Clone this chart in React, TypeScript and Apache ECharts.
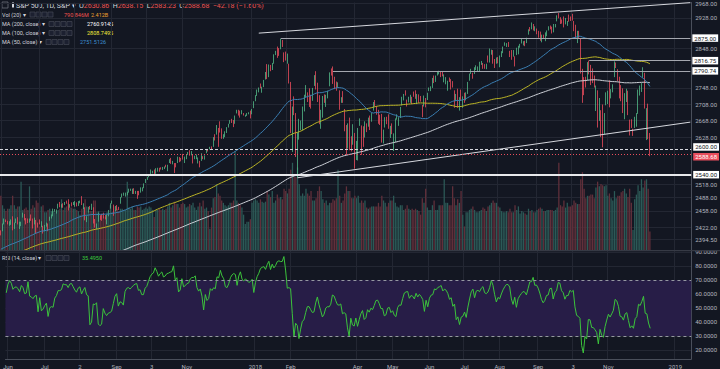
import React, { useEffect, useRef } from "react";
import * as echarts from "echarts";

// ---------- calendar ----------
const START_DATE = "2016-10-24";
const HOLIDAYS = [
  "2016-11-24", "2016-12-26", "2017-01-02", "2017-01-16", "2017-02-20", "2017-04-14", "2017-05-29",
  "2017-07-04", "2017-09-04", "2017-11-23", "2017-12-25", "2018-01-01", "2018-01-15", "2018-02-19",
  "2018-03-30", "2018-05-28", "2018-07-04", "2018-09-03", "2018-11-22", "2018-12-05", "2018-12-25", "2019-01-01",
];
const FUTURE_BARS = 24;

// ---------- hidden history (closes before the visible window, for MA / RSI) ----------
const priorCloses = [
  2151, 2143, 2139, 2133, 2126, 2126,
  2112, 2098, 2089, 2085, 2132, 2140, 2163, 2167, 2164, 2164, 2180, 2177, 2187, 2182, 2198, 2203, 2205, 2213, 2202, 2205, 2199,
  2191, 2192, 2205, 2212, 2241, 2246, 2260, 2257, 2272, 2253, 2262, 2258, 2263, 2271, 2265, 2261, 2264, 2269, 2250, 2249, 2239,
  2258, 2271, 2269, 2277, 2269, 2269, 2275, 2270, 2275, 2268, 2272, 2264, 2271, 2265, 2280, 2298, 2297, 2295, 2281, 2279,
  2280, 2281, 2297, 2293, 2293, 2295, 2308, 2316, 2328, 2338, 2349, 2347, 2351, 2365, 2363, 2364, 2367, 2370, 2364,
  2396, 2382, 2383, 2375, 2368, 2363, 2365, 2373, 2373, 2365, 2385, 2381, 2378, 2373, 2344, 2348, 2346, 2344, 2342, 2359, 2361, 2368, 2363,
  2359, 2360, 2353, 2357, 2356, 2357, 2354, 2345, 2329, 2349, 2342, 2338, 2356, 2349, 2374, 2389, 2387, 2389, 2384,
  2388, 2391, 2388, 2390, 2399, 2399, 2397, 2400, 2394, 2391, 2402, 2401, 2357, 2366, 2382, 2394, 2398, 2404, 2415, 2416, 2413,
];

// ---------- visible daily bars [open, high, low, close], 2017-05-31 .. 2018-12-10 ----------
const ohlc = [
  [2415, 2415, 2404, 2412],
  // Jun 2017
  [2415, 2430, 2413, 2430], [2432, 2441, 2428, 2439], [2437, 2439, 2433, 2436], [2434, 2436, 2428, 2429], [2432, 2435, 2425, 2433],
  [2434, 2439, 2427, 2434], [2437, 2446, 2415, 2432], [2428, 2432, 2418, 2429], [2434, 2441, 2431, 2440], [2443, 2444, 2428, 2438],
  [2424, 2434, 2418, 2432], [2428, 2434, 2424, 2433], [2443, 2454, 2443, 2453], [2450, 2451, 2437, 2437], [2440, 2442, 2428, 2436],
  [2437, 2441, 2431, 2434], [2434, 2441, 2432, 2438], [2445, 2450, 2436, 2439], [2437, 2441, 2419, 2419], [2428, 2443, 2428, 2441],
  [2436, 2438, 2408, 2420], [2429, 2432, 2421, 2423],
  // Jul 2017
  [2431, 2439, 2428, 2429], [2430, 2435, 2422, 2433], [2424, 2425, 2408, 2410], [2413, 2427, 2413, 2425], [2425, 2432, 2423, 2427],
  [2427, 2430, 2413, 2426], [2436, 2445, 2436, 2443], [2444, 2450, 2441, 2448], [2449, 2463, 2446, 2459], [2459, 2462, 2456, 2459],
  [2455, 2461, 2452, 2461], [2463, 2474, 2463, 2474], [2475, 2478, 2466, 2473], [2468, 2473, 2465, 2473], [2473, 2475, 2465, 2470],
  [2474, 2478, 2471, 2477], [2479, 2481, 2474, 2478], [2482, 2484, 2459, 2475], [2470, 2473, 2465, 2472], [2475, 2477, 2468, 2470],
  // Aug 2017
  [2474, 2478, 2471, 2476], [2478, 2480, 2467, 2478], [2476, 2477, 2468, 2472], [2475, 2480, 2469, 2477], [2478, 2481, 2475, 2481],
  [2478, 2491, 2471, 2475], [2466, 2475, 2462, 2474], [2466, 2466, 2437, 2438], [2439, 2446, 2433, 2441], [2454, 2467, 2454, 2466],
  [2468, 2469, 2461, 2465], [2468, 2474, 2460, 2468], [2462, 2466, 2430, 2430], [2427, 2440, 2421, 2426], [2426, 2430, 2418, 2428],
  [2434, 2454, 2434, 2453], [2445, 2448, 2438, 2444], [2450, 2451, 2436, 2439], [2446, 2454, 2441, 2443], [2447, 2449, 2439, 2444],
  [2432, 2450, 2428, 2446], [2447, 2460, 2446, 2458], [2463, 2475, 2463, 2472],
  // Sep 2017
  [2475, 2481, 2474, 2477], [2470, 2472, 2447, 2458], [2463, 2469, 2457, 2466], [2469, 2471, 2459, 2465], [2462, 2467, 2460, 2461],
  [2474, 2489, 2474, 2488], [2492, 2497, 2488, 2496], [2494, 2499, 2492, 2498], [2494, 2499, 2490, 2496], [2495, 2501, 2493, 2500],
  [2503, 2508, 2499, 2504], [2506, 2508, 2503, 2507], [2506, 2508, 2496, 2508], [2507, 2509, 2496, 2501], [2498, 2503, 2496, 2502],
  [2500, 2503, 2485, 2497], [2501, 2503, 2493, 2497], [2504, 2511, 2499, 2507], [2504, 2511, 2502, 2510], [2511, 2520, 2509, 2519],
  // Oct 2017
  [2521, 2530, 2521, 2529], [2531, 2535, 2528, 2535], [2534, 2540, 2534, 2538], [2540, 2552, 2538, 2552], [2547, 2549, 2543, 2549],
  [2551, 2552, 2541, 2545], [2550, 2555, 2542, 2551], [2550, 2556, 2547, 2555], [2553, 2556, 2547, 2551], [2556, 2557, 2552, 2553],
  [2556, 2558, 2551, 2558], [2555, 2559, 2553, 2559], [2562, 2563, 2557, 2561], [2549, 2563, 2548, 2562], [2567, 2576, 2567, 2575],
  [2578, 2579, 2565, 2565], [2569, 2572, 2564, 2569], [2566, 2567, 2544, 2557], [2561, 2567, 2557, 2560], [2570, 2582, 2567, 2581],
  [2578, 2581, 2569, 2573], [2576, 2579, 2571, 2575],
  // Nov 2017
  [2584, 2588, 2575, 2579], [2578, 2582, 2567, 2580], [2582, 2588, 2576, 2588], [2588, 2593, 2586, 2591], [2593, 2597, 2584, 2591],
  [2588, 2595, 2585, 2594], [2585, 2586, 2566, 2585], [2580, 2584, 2576, 2582], [2577, 2587, 2576, 2585], [2577, 2580, 2566, 2579],
  [2569, 2572, 2557, 2565], [2572, 2590, 2572, 2586], [2582, 2583, 2576, 2579], [2579, 2585, 2575, 2582], [2590, 2600, 2590, 2599],
  [2600, 2600, 2594, 2597], [2600, 2605, 2599, 2602], [2602, 2606, 2598, 2601], [2605, 2628, 2605, 2627], [2628, 2635, 2620, 2626],
  [2634, 2657, 2634, 2648],
  // Dec 2017
  [2645, 2650, 2605, 2642], [2657, 2666, 2639, 2639], [2640, 2649, 2624, 2630], [2627, 2635, 2624, 2629], [2629, 2642, 2628, 2637],
  [2645, 2652, 2638, 2652], [2653, 2660, 2651, 2660], [2661, 2669, 2660, 2664], [2667, 2672, 2662, 2663], [2668, 2669, 2652, 2652],
  [2661, 2680, 2660, 2676], [2685, 2694, 2685, 2690], [2692, 2694, 2680, 2681], [2688, 2692, 2675, 2679], [2684, 2693, 2683, 2685],
  [2683, 2686, 2680, 2683], [2680, 2682, 2677, 2681], [2682, 2686, 2679, 2683], [2686, 2688, 2683, 2688], [2690, 2692, 2673, 2674],
  // Jan 2018
  [2684, 2696, 2683, 2696], [2698, 2715, 2698, 2713], [2720, 2730, 2715, 2724], [2731, 2744, 2728, 2743], [2743, 2749, 2737, 2748],
  [2752, 2759, 2747, 2751], [2746, 2751, 2736, 2748], [2752, 2768, 2750, 2768], [2771, 2788, 2769, 2786], [2798, 2808, 2770, 2776],
  [2785, 2807, 2775, 2803], [2803, 2806, 2790, 2798], [2803, 2811, 2793, 2810], [2810, 2833, 2809, 2833], [2836, 2842, 2831, 2839],
  [2845, 2853, 2824, 2838], [2846, 2849, 2829, 2839], [2848, 2873, 2846, 2873], [2867, 2870, 2852, 2854], [2832, 2838, 2813, 2822],
  [2833, 2840, 2817, 2824],
  // Feb 2018
  [2817, 2835, 2809, 2822], [2809, 2809, 2759, 2762], [2741, 2763, 2638, 2649], [2614, 2702, 2593, 2695], [2690, 2727, 2681, 2682],
  [2686, 2686, 2581, 2581], [2601, 2639, 2533, 2620], [2637, 2672, 2622, 2656], [2647, 2668, 2645, 2663], [2644, 2702, 2644, 2699],
  [2713, 2731, 2690, 2731], [2727, 2755, 2725, 2732], [2722, 2737, 2713, 2716], [2720, 2747, 2701, 2701], [2711, 2731, 2697, 2704],
  [2716, 2748, 2716, 2747], [2757, 2780, 2753, 2780], [2781, 2790, 2744, 2744], [2754, 2761, 2713, 2714],
  // Mar 2018
  [2715, 2730, 2659, 2678], [2658, 2694, 2648, 2691], [2681, 2728, 2675, 2721], [2731, 2732, 2711, 2728], [2711, 2731, 2701, 2727],
  [2732, 2741, 2722, 2739], [2753, 2787, 2752, 2787], [2790, 2797, 2779, 2783], [2795, 2802, 2758, 2765], [2774, 2776, 2745, 2749],
  [2754, 2764, 2741, 2747], [2750, 2762, 2749, 2752], [2741, 2742, 2694, 2713], [2716, 2725, 2711, 2717], [2715, 2740, 2711, 2712],
  [2692, 2696, 2642, 2644], [2646, 2657, 2586, 2588], [2619, 2661, 2601, 2659], [2667, 2675, 2597, 2613], [2612, 2630, 2594, 2605],
  [2610, 2659, 2610, 2641],
  // Apr 2018
  [2634, 2638, 2554, 2582], [2597, 2619, 2574, 2614], [2585, 2650, 2573, 2645], [2659, 2673, 2655, 2663], [2645, 2656, 2586, 2604],
  [2618, 2654, 2605, 2613], [2638, 2666, 2627, 2657], [2643, 2661, 2640, 2642], [2653, 2675, 2653, 2664], [2676, 2680, 2645, 2656],
  [2671, 2686, 2665, 2678], [2697, 2713, 2692, 2706], [2711, 2718, 2703, 2709], [2701, 2703, 2682, 2693], [2692, 2694, 2660, 2670],
  [2675, 2682, 2657, 2670], [2680, 2684, 2615, 2635], [2634, 2646, 2613, 2639], [2651, 2676, 2651, 2667], [2675, 2677, 2659, 2670],
  [2683, 2683, 2648, 2648],
  // May 2018
  [2643, 2655, 2626, 2655], [2651, 2661, 2635, 2636], [2628, 2637, 2595, 2630], [2622, 2673, 2616, 2663], [2671, 2683, 2670, 2673],
  [2670, 2676, 2655, 2672], [2678, 2701, 2674, 2698], [2706, 2726, 2705, 2723], [2722, 2733, 2717, 2728], [2739, 2742, 2729, 2730],
  [2719, 2719, 2702, 2711], [2713, 2726, 2712, 2722], [2719, 2731, 2711, 2720], [2718, 2726, 2708, 2713], [2735, 2739, 2726, 2733],
  [2738, 2742, 2721, 2724], [2714, 2733, 2708, 2733], [2730, 2732, 2711, 2728], [2724, 2728, 2714, 2721], [2705, 2706, 2676, 2690],
  [2702, 2729, 2702, 2724], [2720, 2723, 2700, 2705],
  // Jun 2018
  [2718, 2736, 2718, 2735], [2742, 2749, 2740, 2747], [2749, 2752, 2740, 2749], [2753, 2773, 2748, 2772], [2775, 2779, 2760, 2770],
  [2765, 2779, 2763, 2779], [2780, 2790, 2779, 2782], [2786, 2791, 2782, 2787], [2788, 2790, 2775, 2776], [2784, 2789, 2777, 2782],
  [2777, 2782, 2762, 2780], [2766, 2775, 2757, 2774], [2752, 2766, 2741, 2763], [2769, 2774, 2763, 2767], [2770, 2770, 2744, 2750],
  [2760, 2765, 2749, 2755], [2742, 2742, 2699, 2717], [2723, 2733, 2715, 2723], [2729, 2746, 2699, 2700], [2698, 2725, 2692, 2716],
  [2727, 2744, 2716, 2718],
  // Jul 2018
  [2705, 2727, 2699, 2727], [2733, 2736, 2711, 2713], [2724, 2737, 2717, 2737], [2738, 2763, 2733, 2760], [2766, 2784, 2766, 2784],
  [2789, 2796, 2783, 2794], [2779, 2786, 2771, 2774], [2783, 2800, 2783, 2798], [2797, 2805, 2793, 2801], [2797, 2802, 2789, 2798],
  [2790, 2814, 2789, 2810], [2811, 2816, 2806, 2816], [2810, 2811, 2796, 2804], [2805, 2808, 2796, 2802], [2799, 2809, 2795, 2807],
  [2821, 2830, 2812, 2820], [2817, 2848, 2812, 2846], [2836, 2845, 2832, 2837], [2843, 2844, 2809, 2819], [2819, 2821, 2798, 2803],
  [2809, 2825, 2809, 2816],
  // Aug 2018
  [2822, 2826, 2810, 2813], [2800, 2830, 2800, 2827], [2829, 2841, 2826, 2840], [2841, 2853, 2836, 2850], [2855, 2864, 2855, 2858],
  [2856, 2862, 2852, 2858], [2858, 2865, 2852, 2854], [2839, 2842, 2826, 2833], [2835, 2844, 2819, 2822], [2828, 2844, 2827, 2840],
  [2827, 2828, 2802, 2818], [2831, 2850, 2831, 2841], [2838, 2855, 2833, 2850], [2853, 2860, 2850, 2857], [2861, 2873, 2861, 2863],
  [2860, 2867, 2856, 2862], [2860, 2868, 2854, 2857], [2862, 2876, 2862, 2875], [2885, 2898, 2884, 2897], [2901, 2904, 2893, 2898],
  [2900, 2916, 2898, 2914], [2908, 2912, 2895, 2901], [2899, 2906, 2893, 2902],
  // Sep 2018
  [2897, 2900, 2885, 2897], [2892, 2894, 2876, 2889], [2889, 2892, 2868, 2878], [2868, 2884, 2864, 2872], [2882, 2884, 2874, 2877],
  [2872, 2890, 2867, 2888], [2888, 2895, 2880, 2889], [2896, 2906, 2895, 2904], [2906, 2908, 2898, 2905], [2904, 2905, 2887, 2889],
  [2891, 2912, 2890, 2904], [2906, 2912, 2903, 2908], [2919, 2935, 2919, 2931], [2936, 2941, 2927, 2930], [2926, 2930, 2912, 2919],
  [2922, 2924, 2913, 2916], [2917, 2932, 2903, 2906], [2911, 2928, 2911, 2914], [2910, 2920, 2907, 2914],
  // Oct 2018
  [2926, 2937, 2918, 2925], [2924, 2932, 2920, 2923], [2932, 2939, 2921, 2926], [2919, 2920, 2893, 2902], [2902, 2910, 2874, 2886],
  [2878, 2894, 2862, 2884], [2882, 2894, 2874, 2880], [2873, 2874, 2784, 2786], [2776, 2796, 2711, 2728], [2770, 2775, 2730, 2767],
  [2764, 2776, 2749, 2751], [2767, 2813, 2767, 2810], [2812, 2817, 2782, 2809], [2802, 2806, 2755, 2769], [2775, 2797, 2760, 2768],
  [2774, 2779, 2749, 2756], [2721, 2754, 2691, 2741], [2737, 2742, 2651, 2656], [2675, 2723, 2667, 2706], [2667, 2693, 2628, 2659],
  [2682, 2707, 2604, 2641], [2641, 2686, 2635, 2683], [2705, 2737, 2705, 2712],
  // Nov 2018
  [2717, 2741, 2708, 2740], [2754, 2767, 2700, 2723], [2727, 2745, 2722, 2738], [2738, 2757, 2737, 2755], [2775, 2815, 2775, 2814],
  [2807, 2812, 2798, 2807], [2795, 2795, 2765, 2781], [2773, 2776, 2722, 2726], [2731, 2755, 2715, 2722], [2738, 2747, 2686, 2702],
  [2693, 2735, 2671, 2730], [2718, 2746, 2713, 2736], [2731, 2741, 2681, 2691], [2654, 2670, 2632, 2642], [2657, 2671, 2650, 2650],
  [2633, 2648, 2631, 2633], [2650, 2677, 2650, 2673], [2663, 2686, 2653, 2682], [2691, 2744, 2684, 2744], [2737, 2754, 2729, 2738],
  [2738, 2760, 2738, 2760],
  // Dec 2018
  [2790, 2800, 2774, 2790], [2783, 2786, 2697, 2700], [2663, 2698, 2621, 2696], [2691, 2709, 2623, 2633], [2631, 2638, 2583, 2589],
];

// ---------- volume (units of 10M) ----------
const volumes = [
  230,
  190, 175, 165, 175, 175, 190, 230, 190, 175, 185, 185, 290, 170, 175, 180, 170, 270, 175, 190, 180, 210, 200,
  100, 185, 190, 160, 160, 170, 175, 165, 165, 160, 165, 170, 175, 215, 170, 180, 185, 200, 180, 180,
  175, 175, 170, 165, 150, 175, 180, 215, 185, 160, 165, 165, 210, 210, 160, 165, 150, 155, 145, 140, 160, 155, 190,
  160, 185, 170, 175, 165, 175, 175, 170, 170, 290, 180, 175, 185, 170, 170, 185, 180, 185, 170, 175,
  180, 175, 185, 180, 170, 140, 170, 170, 175, 170, 175, 170, 175, 185, 200, 180, 190, 205, 195, 195, 180, 195,
  200, 195, 180, 185, 195, 190, 200, 180, 170, 185, 200, 185, 210, 175, 180, 165, 90, 180, 220, 225, 280,
  240, 230, 210, 200, 190, 185, 190, 200, 200, 210, 420, 210, 200, 190, 180, 150, 110, 120, 120, 130,
  200, 210, 215, 210, 200, 215, 205, 200, 205, 250, 235, 225, 250, 200, 210, 235, 220, 225, 215, 260, 250,
  240, 260, 340, 370, 310, 310, 350, 280, 230, 240, 230, 260, 240, 230, 250, 210, 210, 220, 250,
  270, 250, 215, 200, 210, 190, 200, 200, 215, 210, 220, 340, 230, 200, 210, 240, 270, 250, 250, 220, 220,
  230, 220, 230, 200, 210, 200, 210, 180, 175, 180, 185, 185, 185, 185, 200, 185, 230, 210, 200, 185, 200,
  210, 210, 230, 200, 185, 180, 190, 190, 170, 175, 190, 175, 170, 175, 170, 175, 170, 165, 150, 220, 200, 260,
  180, 170, 170, 190, 210, 170, 170, 190, 190, 190, 300, 200, 200, 190, 190, 270, 220, 190, 215, 200, 250,
  150, 100, 160, 160, 170, 175, 185, 170, 160, 160, 165, 170, 180, 175, 165, 185, 190, 200, 210, 200, 200,
  185, 180, 165, 160, 160, 165, 160, 175, 160, 160, 190, 170, 185, 155, 165, 160, 155, 150, 175, 165, 170, 160, 160,
  170, 175, 180, 175, 165, 165, 170, 170, 170, 170, 165, 170, 180, 370, 190, 185, 210, 180, 200,
  185, 185, 190, 210, 200, 195, 195, 300, 330, 260, 220, 230, 230, 235, 235, 220, 265, 290, 270, 280, 275, 270, 275,
  230, 240, 220, 210, 250, 220, 230, 230, 245, 250, 260, 240, 225, 260, 200, 85, 215, 235, 275, 250, 300,
  265, 295, 300, 260, 79,
];

// ---------- axes ----------
const xLabelDates = [
  "2017-06-01", "2017-07-03", "2017-08-02", "2017-09-01", "2017-10-03", "2017-11-01", "2018-01-02", "2018-02-01",
  "2018-04-02", "2018-05-01", "2018-06-01", "2018-07-02", "2018-08-01", "2018-09-04", "2018-10-03", "2018-11-01", "2019-01-02",
];
const xLabelTexts = ["Jun", "Jul", "2", "Sep", "3", "Nov", "2018", "Feb", "Apr", "May", "Jun", "Jul", "Aug", "Sep", "3", "Nov", "2019"];
const priceTicks = [2968, 2928, 2848, 2748, 2708, 2668, 2628, 2518, 2488, 2458, 2422, 2394.5];
const rsiTicks = [20, 30, 40, 50, 60, 70, 80, 90];
const PRICE_MIN = 2372.3;
const PRICE_MAX = 2969.4;
const RSI_MIN = 13.57;
const RSI_MAX = 90.71;
const VOL_MAX = 1050;

// ---------- drawings ----------
const fullLevels = [2600, 2588.68, 2540];
const rayStarts = [["2018-01-26", 2875], ["2018-10-17", 2816.75], ["2018-03-13", 2790.74]];
const trendLines = [
  ["2018-01-08", 2888, "END", 2969],
  ["2018-02-09", 2533, "END", 2664],
  ["2017-09-29", 2372, "2018-10-15", 2809],
];

// ---------- legend values ----------
const ohlcLegend = { o: "2630.86", h: "2638.15", l: "2583.23", c: "2588.68", chg: "−42.18 (−1.60%)" };
const volLegend = ["790.846M", "2.412B"];
const maLegend = ["2760.9145", "2808.7495", "2751.5126"];
const rsiLegend = "35.4950";

function tradingDates(start: string, count: number, holidays: string[]) {
  const hs = new Set(holidays);
  const out: string[] = [];
  const d = new Date(start + "T00:00:00Z");
  while (out.length < count) {
    const wd = d.getUTCDay();
    const s = d.toISOString().slice(0, 10);
    if (wd !== 0 && wd !== 6 && !hs.has(s)) out.push(s);
    d.setUTCDate(d.getUTCDate() + 1);
  }
  return out;
}

function sma(arr: number[], n: number) {
  const out: (number | null)[] = [];
  let sum = 0;
  for (let i = 0; i < arr.length; i++) {
    sum += arr[i];
    if (i >= n) sum -= arr[i - n];
    out.push(i >= n - 1 ? sum / n : null);
  }
  return out;
}

function rsiCalc(c: number[], n: number) {
  const out: (number | null)[] = new Array(c.length).fill(null);
  let g = 0, l = 0;
  for (let i = 1; i <= n; i++) {
    const d = c[i] - c[i - 1];
    if (d > 0) g += d; else l -= d;
  }
  g /= n; l /= n;
  out[n] = l === 0 ? 100 : 100 - 100 / (1 + g / l);
  for (let i = n + 1; i < c.length; i++) {
    const d = c[i] - c[i - 1];
    g = (g * (n - 1) + Math.max(d, 0)) / n;
    l = (l * (n - 1) + Math.max(-d, 0)) / n;
    out[i] = l === 0 ? 100 : 100 - 100 / (1 + g / l);
  }
  return out;
}

const COL = {
  bg: "#131722",
  grid: "#232733",
  axis: "#4a4f5b",
  label: "#b2b5be",
  white: "#d1d4dc",
  up: "#53b987",
  down: "#eb4d5c",
  volUp: "#2c5a57",
  volDown: "#62303b",
  ma50: "#3b7fb3",
  ma100: "#bdb626",
  ma200: "#cfd2d9",
  rsi: "#3cc43c",
  band: "#271d47",
  draw: "#d6d8de",
};

export default function App() {
  const ref = useRef<HTMLDivElement>(null);
  useEffect(() => {
    if (!ref.current) return;
    const chart = echarts.init(ref.current, null, { renderer: "svg" });
    const P = priorCloses.length;
    const all = tradingDates(START_DATE, P + ohlc.length + FUTURE_BARS, HOLIDAYS);
    const cats = all.slice(P);
    const lastCat = cats[cats.length - 1];
    const closes = priorCloses.concat(ohlc.map((r) => r[3]));
    const ma50 = sma(closes, 50).slice(P);
    const ma100 = sma(closes, 100).slice(P);
    const ma200 = sma(closes, 200).slice(P);
    const rsi = rsiCalc(closes, 14).slice(P);
    const pad = (a: any[]) => a.concat(new Array(cats.length - a.length).fill("-"));
    const candles = ohlc.map((r) => [r[0], r[3], r[2], r[1]]);
    const vols = volumes.map((v, i) => {
      const r = ohlc[i] || [0, 0, 0, 0];
      return { value: v, itemStyle: { color: r[3] >= r[0] ? COL.volUp : COL.volDown } };
    });
    const labelMap: Record<string, string> = {};
    xLabelDates.forEach((d, i) => (labelMap[d] = xLabelTexts[i]));
    const showTick = (_i: number, v: string) => labelMap[v] !== undefined;

    const boxLabel = (txt: string, bg = "#ffffff", fg = "#131722", dy = 0) => ({
      show: true, position: "end", formatter: txt, backgroundColor: bg, color: fg,
      fontSize: 6, padding: [1, 2, 0.5, 2], distance: 2, fontFamily: "Roboto", offset: [0, dy],
    });

    const mlData: any[] = [
      { yAxis: fullLevels[0], lineStyle: { color: COL.draw, type: [3, 2], width: 1 }, label: boxLabel("2600.00", "#ffffff", "#131722", -2) },
      { yAxis: fullLevels[2], lineStyle: { color: "#e8e9ec", type: "solid", width: 2 }, label: boxLabel("2540.00") },
      ...rayStarts.map((r) => [
        { coord: [r[0], r[1]], lineStyle: { color: "#a4a7af", width: 1.2, type: "solid" }, label: boxLabel((r[1] as number).toFixed(2)) },
        { coord: [lastCat, r[1]] },
      ]),
      ...trendLines.map((t) => [
        { coord: [t[0], t[1]], lineStyle: { color: COL.draw, width: 1, type: "solid" }, label: { show: false } },
        { coord: [t[2] === "END" ? lastCat : t[2], t[3]] },
      ]),
      { yAxis: fullLevels[1], lineStyle: { color: "#e84d5c", type: [1, 2], width: 1 }, label: boxLabel("2588.68", "#e84d5c", "#ffffff", 3) },
    ];

    const legendText = (x: number, y: number, text: string, size: number, rich?: any) => ({
      type: "text", x, y, silent: true,
      style: { text, fill: COL.white, fontSize: size, fontFamily: "Roboto", verticalAlign: "middle", rich },
    });
    const boxes = (x: number, y: number) =>
      [0, 1, 2, 3].map((k) => ({
        type: "rect", silent: true,
        shape: { x: x + k * 6, y: y - 2.5, width: 5, height: 5 },
        style: { fill: "#1c2030", stroke: "#4a4f5b", lineWidth: 0.6 },
      }));
    const valueText = (x: number, y: number, text: string, fill: string) => ({
      type: "text", x, y, silent: true,
      style: { text, fill, fontSize: 5.5, fontFamily: "Roboto", verticalAlign: "middle" },
    });

    const rich1 = {
      w: { fill: COL.white, fontSize: 7, fontFamily: "Roboto" },
      r: { fill: "#ef5350", fontSize: 7, fontFamily: "Roboto" },
    };

    const graphics: any[] = [
      { type: "rect", silent: true, shape: { x: 2, y: 2, width: 6, height: 6 }, style: { fill: "none", stroke: "#787b86", lineWidth: 0.7 } },
      { type: "rect", silent: true, shape: { x: 12, y: 2.5, width: 2, height: 5 }, style: { fill: COL.white } },
      legendText(16, 5.5,
        `{w|S&P 500, 1D, S&P ▾}  {w|O}{r|${ohlcLegend.o}}  {w|H}{r|${ohlcLegend.h}}  {w|L}{r|${ohlcLegend.l}}  {w|C}{r|${ohlcLegend.c}}  {r|${ohlcLegend.chg}}`,
        7, rich1),
      legendText(2, 14.5, "Vol (20) ▾", 5.5),
      ...boxes(30, 14.5),
      valueText(64, 14.5, volLegend[0], "#ef5350"),
      valueText(91, 14.5, volLegend[1], "#f0a030"),
      legendText(2, 24, "MA (200, close) ▾", 5.5),
      ...boxes(49, 24),
      valueText(87, 24, maLegend[0], "#ffffff"),
      legendText(2, 33, "MA (100, close) ▾", 5.5),
      ...boxes(49, 33),
      valueText(87, 33, maLegend[1], "#f2ec3c"),
      legendText(2, 42, "MA (50, close) ▾", 5.5),
      ...boxes(46, 42),
      valueText(80, 42, maLegend[2], "#3d8fd1"),
      legendText(2, 258, "RSI (14, close) ▾", 5.5),
      ...boxes(46, 258),
      valueText(82, 258, rsiLegend, "#3cd03c"),
      { type: "rect", silent: true, z: 10, shape: { x: 0, y: 250, width: 720, height: 1.2 }, style: { fill: "#363a45" } },
    ];

    const option: any = {
      animation: false,
      backgroundColor: COL.bg,
      textStyle: { fontFamily: "Roboto" },
      grid: [
        { left: 0, right: 23, top: 0, height: 250 },
        { left: 0, right: 23, top: 251, height: 108 },
      ],
      xAxis: [
        {
          type: "category", gridIndex: 0, data: cats, boundaryGap: true,
          axisLine: { show: false }, axisTick: { show: false }, axisLabel: { show: false },
          splitLine: { show: true, interval: showTick, lineStyle: { color: COL.grid, width: 1 } },
        },
        {
          type: "category", gridIndex: 1, data: cats, boundaryGap: true,
          axisLine: { show: true, lineStyle: { color: COL.axis } }, axisTick: { show: false },
          axisLabel: { show: true, interval: showTick, formatter: (v: string) => labelMap[v] || "", fontSize: 6, color: COL.label, margin: 4 },
          splitLine: { show: true, interval: showTick, lineStyle: { color: COL.grid, width: 1 } },
        },
      ],
      yAxis: [
        {
          type: "log", gridIndex: 0, position: "right", min: PRICE_MIN, max: PRICE_MAX,
          axisLine: { show: true, lineStyle: { color: COL.axis } },
          axisTick: { show: false, customValues: priceTicks },
          axisLabel: { customValues: priceTicks, formatter: (v: number) => Number(v).toFixed(2), fontSize: 6, color: COL.label, margin: 4 },
          splitLine: { show: true, lineStyle: { color: COL.grid } },
        },
        { type: "value", gridIndex: 0, min: 0, max: VOL_MAX, show: false, splitLine: { show: false } },
        {
          type: "value", gridIndex: 1, position: "right", min: RSI_MIN, max: RSI_MAX,
          axisLine: { show: true, lineStyle: { color: COL.axis } },
          axisTick: { show: false, customValues: rsiTicks },
          axisLabel: { customValues: rsiTicks, formatter: (v: number) => Number(v).toFixed(4), fontSize: 6, color: COL.label, margin: 4 },
          splitLine: { show: true, lineStyle: { color: COL.grid } },
        },
      ],
      series: [
        { type: "bar", name: "Vol", xAxisIndex: 0, yAxisIndex: 1, data: pad(vols), barWidth: "75%", silent: true },
        { type: "line", name: "MA200", xAxisIndex: 0, yAxisIndex: 0, data: pad(ma200.map((v) => (v == null ? "-" : v))), showSymbol: false, lineStyle: { color: COL.ma200, width: 1 }, silent: true },
        { type: "line", name: "MA100", xAxisIndex: 0, yAxisIndex: 0, data: pad(ma100.map((v) => (v == null ? "-" : v))), showSymbol: false, lineStyle: { color: COL.ma100, width: 1 }, silent: true },
        { type: "line", name: "MA50", xAxisIndex: 0, yAxisIndex: 0, data: pad(ma50.map((v) => (v == null ? "-" : v))), showSymbol: false, lineStyle: { color: COL.ma50, width: 1 }, silent: true },
        {
          type: "candlestick", name: "SPX", xAxisIndex: 0, yAxisIndex: 0, data: pad(candles), barWidth: "70%", silent: true,
          itemStyle: { color: COL.up, color0: COL.down, borderColor: COL.up, borderColor0: COL.down, borderWidth: 0.8 },
          markLine: { symbol: "none", silent: true, animation: false, data: mlData },
        },
        {
          type: "line", name: "RSI", xAxisIndex: 1, yAxisIndex: 2, data: pad(rsi.map((v) => (v == null ? "-" : v))),
          showSymbol: false, lineStyle: { color: COL.rsi, width: 1 }, silent: true,
          markArea: { silent: true, itemStyle: { color: COL.band }, data: [[{ yAxis: 30 }, { yAxis: 70 }]] },
          markLine: {
            symbol: "none", silent: true, label: { show: false },
            lineStyle: { color: "#9598a1", type: [3, 3], width: 1 },
            data: [{ yAxis: 70 }, { yAxis: 30 }],
          },
        },
      ],
      graphic: graphics,
    };
    chart.setOption(option);
    return () => chart.dispose();
  }, []);
  return <div ref={ref} style={{ position: "fixed", left: 0, top: 0, width: 720, height: 369 }} />;
}
